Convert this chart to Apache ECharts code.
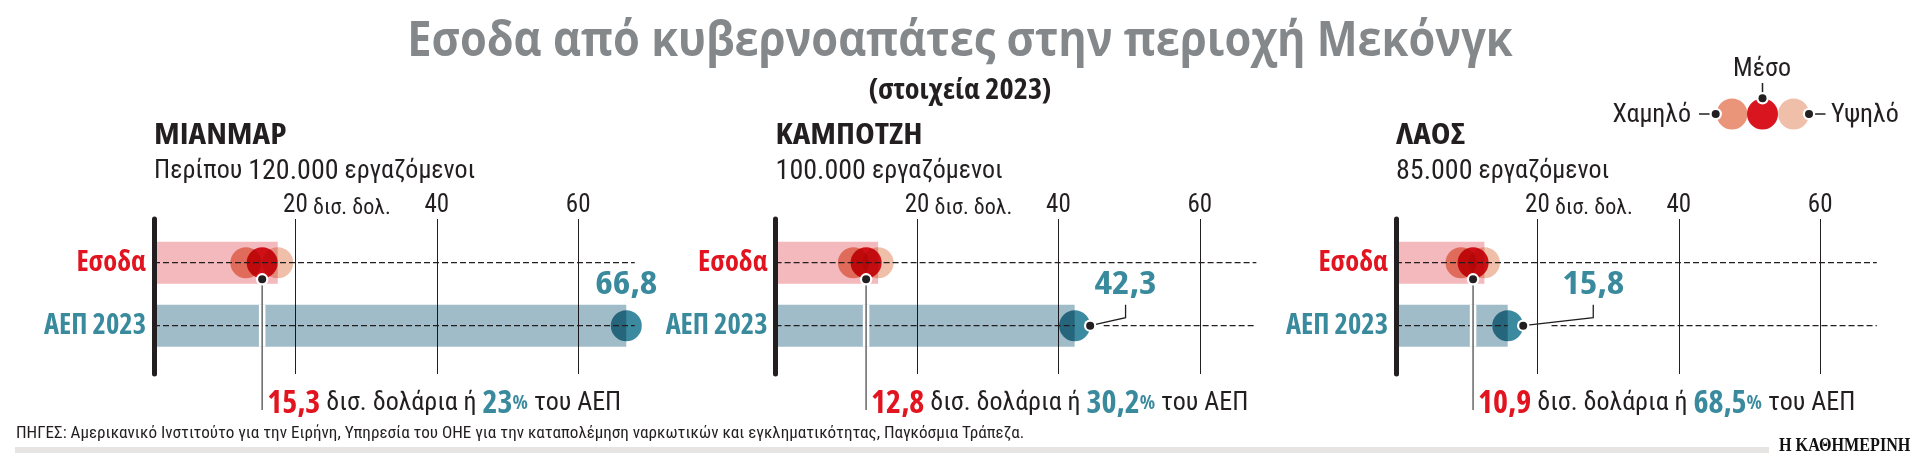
<!DOCTYPE html>
<html lang="el">
<head>
<meta charset="utf-8">
<title>Εσοδα από κυβερνοαπάτες στην περιοχή Μεκόνγκ</title>
<script src="https://cdn.jsdelivr.net/npm/echarts@6/dist/echarts.min.js"></script>
<style>
  html, body { margin: 0; padding: 0; background: #fff; }
  #chart { width: 1918px; height: 465px; }
</style>
</head>
<body>
<div id="chart"></div>
<script>
const countries = ['ΜΙΑΝΜΑΡ', 'ΚΑΜΠΟΤΖΗ', 'ΛΑΟΣ'];
const workers = [
  ['Περίπου ', '120.000', ' εργαζόμενοι'],
  ['', '100.000', ' εργαζόμενοι'],
  ['', '85.000', ' εργαζόμενοι']
];
const rows = ['Εσοδα', 'ΑΕΠ 2023'];
const revenueLow = [13.0, 11.0, 9.2];
const revenueMean = [15.3, 12.8, 10.9];
const revenueHigh = [17.5, 14.5, 12.5];
const gdp = [66.8, 42.3, 15.8];
const gdpLabelAt = [66.8, 49.5, 27.9];
const gdpShare = ['23', '30,2', '68,5'];
const meanText = ['15,3', '12,8', '10,9'];
const gdpText = ['66,8', '42,3', '15,8'];
const dashResume = [null, 46.4, 22];

const INK = '#231f20';
const RED = '#e1141f';
const TEAL = '#3a8a9e';
const X_MAX = 68;
const PLOT_W = X_MAX * 7.07;
const panelLeft = [154, 775.6, 1396];

// canvas honours the stretch keyword in the font shorthand
const REG = (s) => `condensed ${s}px Roboto`;
const BOLD = (s) => `condensed bold ${s}px "Open Sans"`;

const chart = echarts.init(document.getElementById('chart'), null, { renderer: 'canvas' });

function text(str, x, y, font, fill, align, scaleX) {
  return {
    type: 'text', x, y, scaleX: scaleX || 1, silent: true,
    style: { text: str, font, fill, align: align || 'left', verticalAlign: 'middle' }
  };
}

const grids = [], xAxes = [], yAxes = [], series = [], graphics = [];

countries.forEach((name, i) => {
  const frameIdx = i * 2, plotIdx = i * 2 + 1;

  // frame grid carries the thick baseline and the 20/40/60 rules
  grids.push({ left: panelLeft[i], top: 219, width: PLOT_W, height: 155 });
  xAxes.push({
    gridIndex: frameIdx, type: 'value', position: 'top', min: 0, max: X_MAX, interval: 20,
    axisLine: { show: false }, axisTick: { show: false },
    axisLabel: {
      show: true, margin: 1, showMinLabel: false, showMaxLabel: false, color: INK,
      fontStyle: 'condensed', fontFamily: 'Roboto', fontSize: 25
    },
    splitLine: { show: true, showMinLine: false, showMaxLine: false, lineStyle: { color: INK, width: 1 } }
  });
  yAxes.push({
    gridIndex: frameIdx, type: 'value', min: 0, max: 1, splitLine: { show: false },
    axisTick: { show: false }, axisLabel: { show: false },
    axisLine: { show: true, onZero: false, lineStyle: { color: INK, width: 5 } }, z: 8
  });

  // plot grid carries the two rows
  grids.push({ left: panelLeft[i], top: 231.2, width: PLOT_W, height: 126 });
  xAxes.push({ gridIndex: plotIdx, type: 'value', min: 0, max: X_MAX, show: false });
  yAxes.push({
    gridIndex: plotIdx, type: 'category', data: rows, inverse: true,
    axisLine: { show: false }, axisTick: { show: false }, splitLine: { show: false },
    axisLabel: {
      margin: 8, padding: [7, 0, 0, 0], fontStyle: 'condensed', fontWeight: 'bold',
      fontFamily: '"Open Sans"', fontSize: 28.5,
      color: (v) => (v === rows[0] ? RED : TEAL)
    }
  });

  const onPlot = { xAxisIndex: plotIdx, yAxisIndex: plotIdx };

  series.push({
    ...onPlot, type: 'bar', barWidth: 42, z: 2, blendMode: 'multiply', silent: true,
    data: [
      { value: revenueHigh[i], itemStyle: { color: '#f4b9bd' } },
      { value: gdp[i], itemStyle: { color: '#a1bcc9' } }
    ]
  });

  // revenue range and GDP discs
  [[revenueLow[i], '#ea9479'], [revenueHigh[i], '#f0bfaa'], [revenueMean[i], '#d9161f']].forEach(([v, c]) => {
    series.push({
      ...onPlot, type: 'scatter', symbolSize: 31, z: 3, blendMode: 'multiply', silent: true,
      itemStyle: { color: c, opacity: 1 }, data: [[v, rows[0]]], clip: false
    });
  });
  series.push({
    ...onPlot, type: 'scatter', symbolSize: 31, z: 3, blendMode: 'multiply', silent: true,
    itemStyle: { color: '#3c8a9f', opacity: 1 }, data: [[gdp[i], rows[1]]], clip: false
  });

  // dashed row lines
  const dash = { color: INK, width: 1.3, type: [6, 3] };
  const lineOpts = { ...onPlot, type: 'line', symbol: 'none', z: 4, silent: true, lineStyle: dash };
  series.push({ ...lineOpts, data: [[0, rows[0]], [X_MAX, rows[0]]] });
  if (dashResume[i] == null) {
    series.push({ ...lineOpts, data: [[0, rows[1]], [X_MAX, rows[1]]] });
  } else {
    series.push({ ...lineOpts, data: [[0, rows[1]], [gdp[i], rows[1]]] });
    series.push({ ...lineOpts, data: [[dashResume[i], rows[1]], [X_MAX, rows[1]]] });
  }

  // mean leader, bottom sentence, GDP value
  series.push({
    ...onPlot, type: 'custom', z: 5, silent: true, clip: false,
    data: [[revenueMean[i], gdp[i], gdpLabelAt[i]]],
    encode: { x: [0, 1, 2] },
    renderItem: (params, api) => {
      const row0 = api.coord([api.value(0), 0]);
      const row1 = api.coord([api.value(1), 1]);
      const lab = api.coord([api.value(2), 1]);
      const mx = row0[0];
      const kids = [
        { type: 'line', shape: { x1: mx, y1: row1[1] - 21, x2: mx, y2: row1[1] + 21 }, style: { stroke: '#fff', lineWidth: 6.5 } },
        { type: 'line', shape: { x1: mx, y1: row0[1] + 17, x2: mx, y2: 410 }, style: { stroke: '#666', lineWidth: 1.5 } },
        { type: 'circle', shape: { cx: mx, cy: row0[1] + 16.6, r: 6.2 }, style: { fill: '#fff' } },
        { type: 'circle', shape: { cx: mx, cy: row0[1] + 16.6, r: 4 }, style: { fill: INK } },
        {
          type: 'text', x: lab[0], y: row1[1] - 40.5, scaleX: 1.17,
          style: { text: gdpText[i], font: BOLD(32), fill: TEAL, align: 'center', verticalAlign: 'middle' }
        },
        {
          type: 'text', x: mx + 5, y: 403.5,
          style: {
            text: `{r|${meanText[i]}}{g| δισ. δολάρια ή }{t|${gdpShare[i]}}{p|%}{g| του ΑΕΠ}`,
            align: 'left', verticalAlign: 'middle',
            rich: {
              r: { font: BOLD(32), fill: RED },
              g: { font: REG(26), fill: INK },
              t: { font: BOLD(32), fill: TEAL },
              p: { font: BOLD(20), fill: TEAL }
            }
          }
        }
      ];
      if (api.value(1) + 2.2 < api.value(2)) {
        // callout elbow from the edge of the GDP disc to its value
        const dotX = row1[0] + 15.5, y = row1[1];
        kids.push(
          { type: 'polyline', shape: { points: [[dotX, y], [lab[0], y - 8], [lab[0], y - 21]] }, style: { stroke: INK, lineWidth: 1.3, fill: null } },
          { type: 'circle', shape: { cx: dotX, cy: y, r: 6.2 }, style: { fill: '#fff' } },
          { type: 'circle', shape: { cx: dotX, cy: y, r: 4 }, style: { fill: INK } }
        );
      }
      return { type: 'group', children: kids };
    }
  });

  // panel heading
  const lx = panelLeft[i];
  graphics.push(text(name, lx, 136, BOLD(29), INK, 'left', 1.15));
  graphics.push({
    type: 'text', x: lx, y: 171.5, silent: true,
    style: {
      text: `{a|${workers[i][0]}}{b|${workers[i][1]}}{a|${workers[i][2]}}`,
      verticalAlign: 'middle', align: 'left',
      rich: { a: { font: REG(26), fill: INK }, b: { font: REG(28), fill: INK } }
    }
  });
  graphics.push(text('δισ. δολ.', lx + 159, 208.5, REG(22), INK));
});

// title block
graphics.push(text('Εσοδα από κυβερνοαπάτες στην περιοχή Μεκόνγκ', 960, 42.5, 'bold 49px "Open Sans"', '#85888b', 'center', 0.885));
graphics.push(text('(στοιχεία 2023)', 960, 91, BOLD(28), INK, 'center', 1.08));

// range key, top right
const keyY = 114;
[[1732, '#ea9479'], [1762.5, '#d9161f'], [1793.6, '#f0bfaa']].forEach(([cx, c]) => {
  graphics.push({ type: 'circle', shape: { cx, cy: keyY, r: 15.5 }, style: { fill: c }, silent: true });
});
[[1715.7, keyY, 1699, keyY], [1762.5, 98.3, 1762.5, 83], [1809, keyY, 1825.5, keyY]].forEach(([x1, y1, x2, y2]) => {
  graphics.push({ type: 'line', shape: { x1, y1, x2, y2 }, style: { stroke: INK, lineWidth: 1.5 }, silent: true });
  graphics.push({ type: 'circle', shape: { cx: x1, cy: y1, r: 6.2 }, style: { fill: '#fff' }, silent: true });
  graphics.push({ type: 'circle', shape: { cx: x1, cy: y1, r: 4 }, style: { fill: INK }, silent: true });
});
graphics.push(text('Χαμηλό', 1691, keyY + 1, REG(26), INK, 'right'));
graphics.push(text('Μέσο', 1762, 69, REG(26), INK, 'center'));
graphics.push(text('Υψηλό', 1831, keyY + 1, REG(26), INK, 'left'));

// footer
graphics.push(text('ΠΗΓΕΣ: Αμερικανικό Ινστιτούτο για την Ειρήνη, Υπηρεσία του ΟΗΕ για την καταπολέμηση ναρκωτικών και εγκληματικότητας, Παγκόσμια Τράπεζα.', 16, 434, REG(17), INK, 'left', 1.006));
graphics.push({ type: 'rect', shape: { x: 15, y: 447, width: 1754, height: 6 }, style: { fill: '#e6e5e3' }, silent: true });
graphics.push(text('Η ΚΑΘΗΜΕΡΙΝΗ', 1779, 446, 'bold 19px "Liberation Serif", serif', '#111', 'left', 0.85));

chart.setOption({
  animation: false,
  backgroundColor: '#fff',
  grid: grids, xAxis: xAxes, yAxis: yAxes, series,
  graphic: { elements: graphics }
});
</script>
</body>
</html>
